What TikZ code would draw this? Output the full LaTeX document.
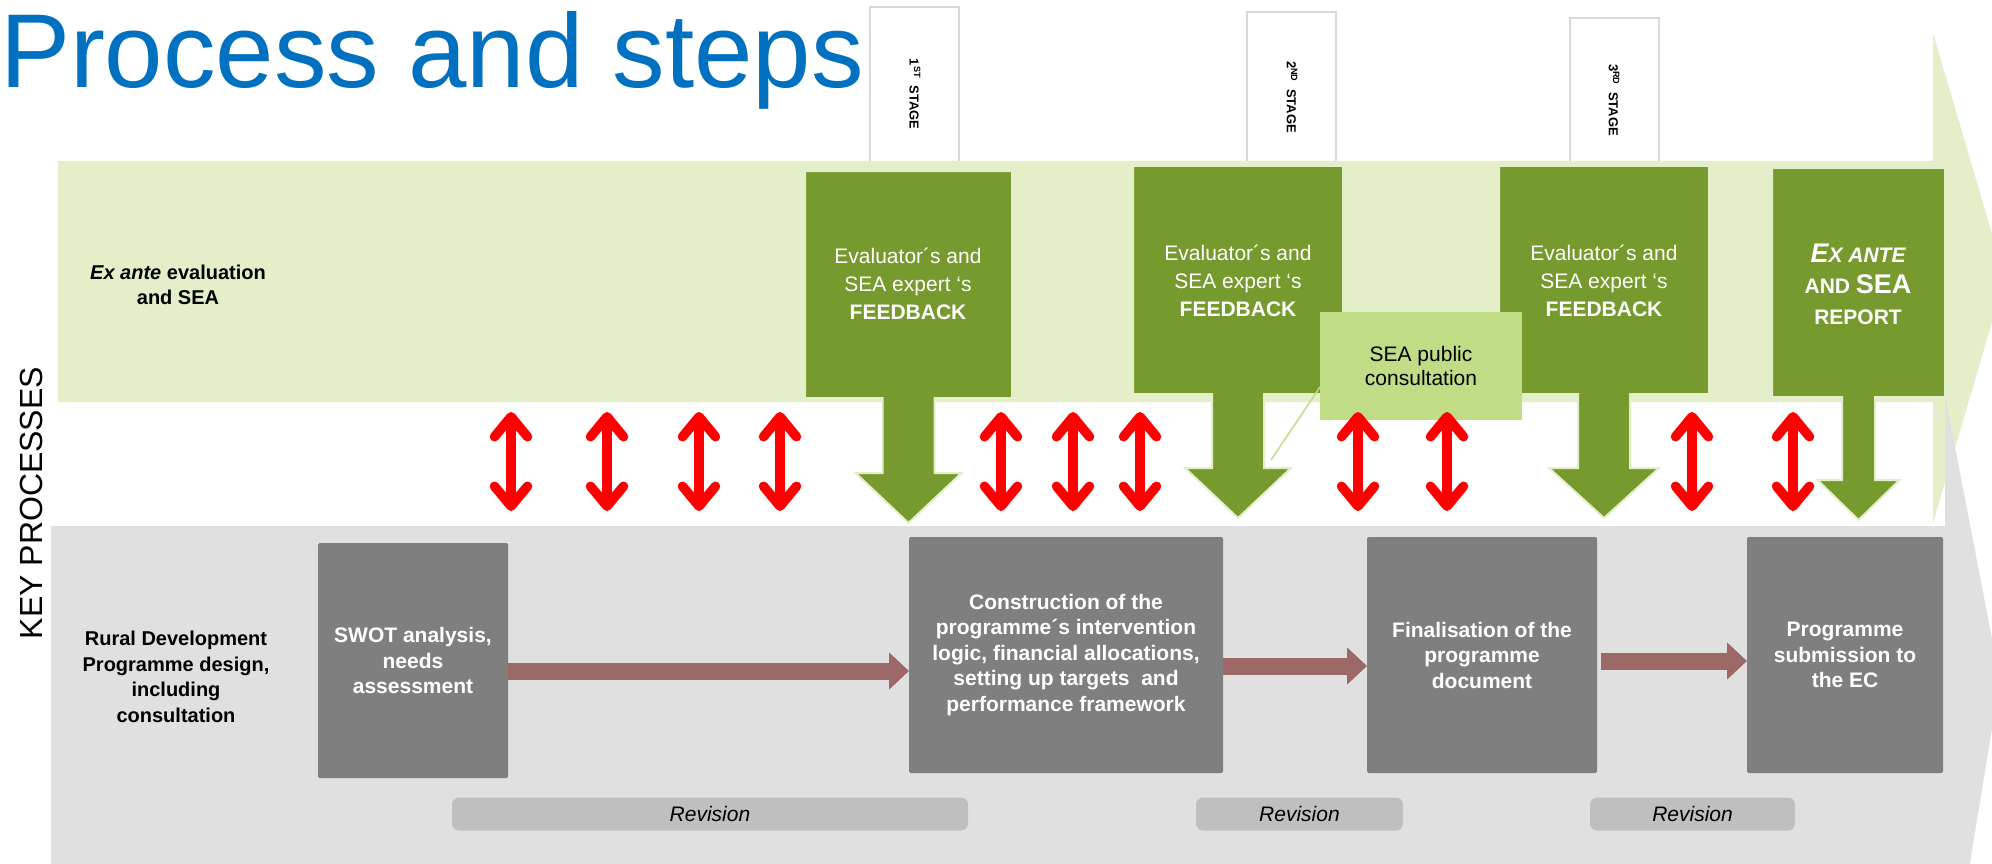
\documentclass[tikz,border=0pt]{standalone}
\usepackage{fontspec}
\setmainfont{Liberation Sans}
\usetikzlibrary{arrows.meta}
\definecolor{bandgreen}{HTML}{E4EFC9}
\definecolor{darkgreen}{HTML}{769A2D}
\definecolor{seagreen}{HTML}{C0DD86}
\definecolor{bandgrey}{HTML}{E0E0E0}
\definecolor{boxgrey}{HTML}{7F7F7F}
\definecolor{revgrey}{HTML}{BFBFBF}
\definecolor{brownarr}{HTML}{9C6868}
\definecolor{titleblue}{HTML}{0070C0}
\definecolor{stageborder}{HTML}{D9D9D9}
\newcommand\myfs[2]{\fontsize{#1}{#2}\selectfont}
% left,right,top,bottom,shafthalf,headhalf,headtop,tip
\newcommand\fbarrow[8]{%
  \path[fbshape] (#1,#3) -- (#2,#3) -- (#2,#4) -- ({(#1+#2)/2+#5},#4) -- ({(#1+#2)/2+#5},#7)
    -- ({(#1+#2)/2+#6},#7) -- ({(#1+#2)/2},#8) -- ({(#1+#2)/2-#6},#7) -- ({(#1+#2)/2-#5},#7)
    -- ({(#1+#2)/2-#5},#4) -- (#1,#4) -- cycle;}
\tikzset{
  every node/.style={inner sep=0pt, outer sep=0pt},
  stagebox/.style={draw=stageborder, line width=2pt, fill=white},
  stagetext/.style={rotate=-90, font=\myfs{13}{15}\bfseries},
  fbshape/.style={fill=darkgreen, draw=bandgreen, line width=2pt, line join=miter},
  fbtext/.style={text=white, align=center, font=\myfs{21}{28}},
  greybox/.style={fill=boxgrey, rounded corners=1.5pt, text=white, align=center,
    font=\myfs{21}{25.5}\bfseries, minimum height=236pt},
  revbar/.style={fill=revgrey, rounded corners=7pt, font=\myfs{21}{24}\itshape, minimum height=33pt},
  redarrow/.style={draw=red, line width=9.5pt,
    {Straight Barb[length=20pt,width=33pt,round]}-{Straight Barb[length=20pt,width=33pt,round]}},
  brownarrow/.style={draw=brownarr, line width=17pt, -{Triangle[length=20pt,width=36pt]}},
  sidelabel/.style={align=center, font=\myfs{20}{25.5}\bfseries},
}
\begin{document}
\begin{tikzpicture}[x=1pt,y=-1pt]
\useasboundingbox (0,0) rectangle (1992,864);
\clip (0,0) rectangle (1992,864);
% stage tabs
\node[stagebox, minimum width=89pt, minimum height=163pt, anchor=north] (st1box) at (914.5,7) {};
\node[stagebox, minimum width=89pt, minimum height=158pt, anchor=north] (st2box) at (1291.5,12) {};
\node[stagebox, minimum width=89pt, minimum height=152pt, anchor=north] (st3box) at (1614.5,18) {};
\node[stagetext] (st1) at (915,94) {1\textsuperscript{ST}\ \ STAGE};
\node[stagetext] (st2) at (1292,97) {2\textsuperscript{ND}\ \ STAGE};
\node[stagetext] (st3) at (1614,100) {3\textsuperscript{RD}\ \ STAGE};
% big bands
\path[fill=bandgreen] (58,161) -- (1933,161) -- (1933,33) -- (2005,278) -- (1933,523) -- (1933,402) -- (58,402) -- cycle;
\path[fill=bandgrey] (51,526) -- (1945,526) -- (1945,395) -- (2000,680) -- (1968,875) -- (51,875) -- cycle;
% feedback arrows
\fbarrow{805}{1012}{171}{398}{26}{53}{473}{523}
\fbarrow{1133}{1343}{166}{394}{26}{53}{468}{518}
\fbarrow{1499}{1709}{166}{394}{26}{55}{468}{518}
\fbarrow{1772}{1945}{168}{397}{16.5}{41}{480}{520}
\node[fbtext] (fb1) at (908,284) {Evaluator´s and\\SEA expert ‘s\\\textbf{FEEDBACK}};
\node[fbtext] (fb2) at (1238,281) {Evaluator´s and\\SEA expert ‘s\\\textbf{FEEDBACK}};
\node[fbtext] (fb3) at (1604,281) {Evaluator´s and\\SEA expert ‘s\\\textbf{FEEDBACK}};
\node[text=white, align=center, font=\myfs{21}{31}\bfseries] (report) at (1858,284)
  {{\itshape\myfs{27}{31}E\myfs{21}{31}X ANTE}\\AND {\myfs{27}{31}SEA}\\REPORT};
% SEA public consultation
\node[fill=seagreen, minimum width=202pt, minimum height=108pt, align=center,
  font=\myfs{21}{24}] (sea) at (1421,366) {SEA public\\consultation};
\coordinate (seaend) at (1271,460);
\draw[seagreen, line width=1.5pt] ([yshift=33pt]sea.south west) -- (seaend);
% red double arrows
\foreach \i/\x in {1/511,2/607,3/699,4/780,5/1001,6/1073,7/1140,8/1358,9/1447,10/1692,11/1793}{
  \coordinate (r\i t) at (\x,412);
  \coordinate (r\i b) at (\x,511);
  \draw[redarrow] (r\i t) -- (r\i b);
}
% grey process boxes
\node[greybox, minimum width=190pt, minimum height=235pt] (swot) at (413,660.5) {SWOT analysis,\\needs\\assessment};
\node[greybox, minimum width=314pt] (constr) at (1066,655) {Construction of the\\programme´s intervention\\logic, financial allocations,\\setting up targets\ \ and\\performance framework};
\node[greybox, minimum width=230pt] (final) at (1482,655) {Finalisation of the\\programme\\document};
\node[greybox, minimum width=196pt] (subm) at (1845,655) {Programme\\submission to\\the EC};
\draw[brownarrow] ([yshift=-10.5pt]swot.east) -- ([yshift=-10.5pt]swot.east -| constr.west);
\draw[brownarrow] ([yshift=-11pt]constr.east) -- ([yshift=-11pt]constr.east -| final.west);
\draw[brownarrow] ([yshift=-6pt,xshift=4pt]final.east) -- ([yshift=-6pt]final.east -| subm.west);
% revision bars
\node[revbar, minimum width=516pt] (rev1) at (710,814) {Revision};
\node[revbar, minimum width=207pt] (rev2) at (1299.5,814) {Revision};
\node[revbar, minimum width=205pt] (rev3) at (1692.5,814) {Revision};
% labels
\node[sidelabel] (exlab) at (178,285) {\textit{Ex ante} evaluation\\and SEA};
\node[sidelabel] (rdlab) at (176,677) {Rural Development\\Programme design,\\including\\consultation};
\node[rotate=90, font=\myfs{32}{36}] (keyp) at (31,503) {KEY PROCESSES};
\node[anchor=base west, text=titleblue, font=\myfs{105}{110}] (title) at (0,88) {Process and steps};
\end{tikzpicture}
\end{document}
